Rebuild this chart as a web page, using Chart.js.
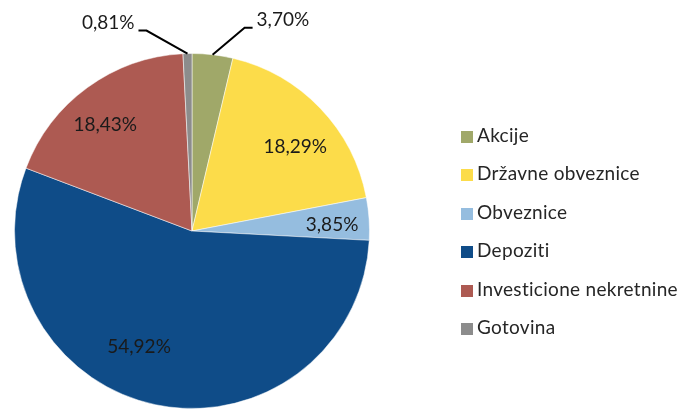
<!DOCTYPE html>
<html>
<head>
<meta charset="utf-8">
<script src="https://cdn.jsdelivr.net/npm/chart.js@4.4.1/dist/chart.umd.min.js"></script>
<style>
  body { margin: 0; background: #fff; }
  #wrap { position: relative; width: 681px; height: 412px; }
  #legend { position: absolute; left: 461px; top: 116px; font-family: Lato, sans-serif; font-size: 19px; letter-spacing: 0.3px; color: #262626; }
  #legend div { height: 38.4px; line-height: 38.4px; white-space: nowrap; }
  #legend span { display: inline-block; width: 12px; height: 12px; margin-right: 4px; vertical-align: -1px; }
</style>
</head>
<body>
<div id="wrap">
  <canvas id="chart" width="681" height="412"></canvas>
  <div id="legend"></div>
</div>
<script>
const categories = ['Akcije', 'Državne obveznice', 'Obveznice', 'Depoziti', 'Investicione nekretnine', 'Gotovina'];
const shares = [3.70, 18.29, 3.85, 54.92, 18.43, 0.81];
const valueLabels = ['3,70%', '18,29%', '3,85%', '54,92%', '18,43%', '0,81%'];
const colors = ['#A0A869', '#FCDC4A', '#95BDDF', '#0F4C88', '#AD5A52', '#8C8C8C'];

// where each label sits: inside (radius fraction + angle shift) or outside with a leader line
const labelStyle = [
  { outside: true, elbow: [32, -27], side: 1 },
  { frac: 0.75, shift: 4.6 },
  { frac: 0.79, shift: 1.4 },
  { frac: 0.72, shift: 12.6 },
  { frac: 0.77, shift: -3.3 },
  { outside: true, elbow: [-41, -23], side: -1 }
];

const sliceLabels = {
  id: 'sliceLabels',
  afterDatasetsDraw(chart) {
    const ctx = chart.ctx;
    const arcs = chart.getDatasetMeta(0).data;
    ctx.save();
    ctx.font = '19px Lato, sans-serif';
    ctx.fillStyle = '#1a1a1a';
    ctx.textBaseline = 'middle';
    arcs.forEach((arc, i) => {
      const st = labelStyle[i];
      const mid = (arc.startAngle + arc.endAngle) / 2;
      if (st.outside) {
        const sx = arc.x + Math.cos(mid) * arc.outerRadius;
        const sy = arc.y + Math.sin(mid) * arc.outerRadius;
        const ex = sx + st.elbow[0], ey = sy + st.elbow[1];
        const hx = ex + st.side * 8;
        ctx.strokeStyle = '#000';
        ctx.lineWidth = 2;
        ctx.beginPath();
        ctx.moveTo(sx, sy);
        ctx.lineTo(ex, ey);
        ctx.lineTo(hx, ey);
        ctx.stroke();
        ctx.textAlign = st.side > 0 ? 'left' : 'right';
        ctx.fillText(valueLabels[i], hx + st.side * 4, ey - 8);
      } else {
        const a = mid + st.shift * Math.PI / 180;
        const r = arc.outerRadius * st.frac;
        ctx.textAlign = 'center';
        ctx.fillText(valueLabels[i], arc.x + Math.cos(a) * r, arc.y + Math.sin(a) * r);
      }
    });
    ctx.restore();
  }
};

new Chart(document.getElementById('chart'), {
  type: 'pie',
  data: {
    labels: categories,
    datasets: [{
      data: shares,
      backgroundColor: colors,
      borderColor: 'rgba(255,255,255,0.5)',
      borderWidth: 1
    }]
  },
  options: {
    responsive: false,
    animation: false,
    layout: { padding: { left: 14, right: 311, top: 53, bottom: 3 } },
    plugins: {
      legend: { display: false },
      tooltip: { enabled: false }
    }
  },
  plugins: [sliceLabels]
});

const legend = document.getElementById('legend');
categories.forEach((name, i) => {
  const row = document.createElement('div');
  row.innerHTML = '<span style="background:' + colors[i] + '"></span>' + name;
  legend.appendChild(row);
});
</script>
</body>
</html>
